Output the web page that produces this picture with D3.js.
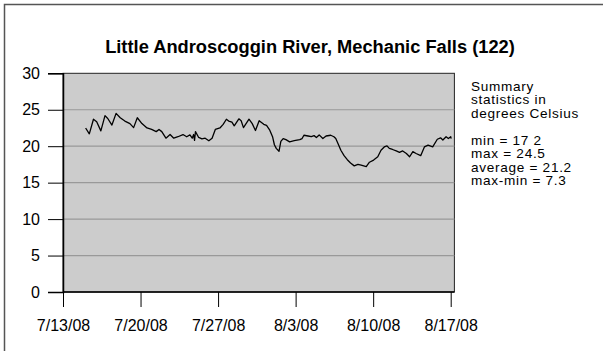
<!DOCTYPE html>
<html>
<head>
<meta charset="utf-8">
<script src="https://cdn.jsdelivr.net/npm/d3@7"></script>
<style>
  html, body { margin: 0; padding: 0; background: #fff; }
  svg { display: block; font-family: "Liberation Sans", Arial, sans-serif; }
</style>
</head>
<body>
<svg id="chart" width="603" height="351"></svg>
<script>
// Water temperature readings, Little Androscoggin River at Mechanic Falls
const times = [
  "2008-07-15T01:00","2008-07-15T09:00","2008-07-15T18:00","2008-07-16T01:00","2008-07-16T10:00",
  "2008-07-16T19:00","2008-07-17T01:00","2008-07-17T10:00","2008-07-17T19:00","2008-07-18T04:00",
  "2008-07-18T14:00","2008-07-19T01:00","2008-07-19T09:00","2008-07-19T17:00","2008-07-20T03:00",
  "2008-07-20T14:00","2008-07-21T00:00","2008-07-21T10:00","2008-07-21T16:00","2008-07-21T22:00",
  "2008-07-22T07:00","2008-07-22T16:00","2008-07-23T00:00","2008-07-23T09:00","2008-07-23T20:00",
  "2008-07-24T04:00","2008-07-24T11:00","2008-07-24T16:00","2008-07-24T19:00","2008-07-24T21:00",
  "2008-07-24T23:00","2008-07-25T06:00","2008-07-25T13:00","2008-07-25T20:00","2008-07-26T04:00",
  "2008-07-26T11:00","2008-07-26T18:00","2008-07-27T04:00","2008-07-27T11:00","2008-07-27T18:00",
  "2008-07-27T23:00","2008-07-28T06:00","2008-07-28T11:00","2008-07-28T21:00","2008-07-29T02:00",
  "2008-07-29T07:00","2008-07-29T19:00","2008-07-30T02:00","2008-07-30T09:00","2008-07-30T17:00",
  "2008-07-31T03:00","2008-07-31T09:00","2008-07-31T16:00","2008-07-31T22:00","2008-08-01T02:00",
  "2008-08-01T06:00","2008-08-01T12:00","2008-08-01T16:00","2008-08-01T21:00","2008-08-02T03:00",
  "2008-08-02T11:00","2008-08-02T21:00","2008-08-03T09:00","2008-08-03T14:00","2008-08-03T18:00",
  "2008-08-04T03:00","2008-08-04T10:00","2008-08-04T16:00","2008-08-04T21:00","2008-08-05T03:00",
  "2008-08-05T11:00","2008-08-05T18:00","2008-08-06T04:00","2008-08-06T11:00","2008-08-06T15:00",
  "2008-08-06T20:00","2008-08-07T02:00","2008-08-07T09:00","2008-08-07T16:00","2008-08-07T23:00",
  "2008-08-08T07:00","2008-08-08T15:00","2008-08-08T22:00","2008-08-09T09:00","2008-08-09T16:00",
  "2008-08-10T01:00","2008-08-10T10:00","2008-08-10T17:00","2008-08-11T00:00","2008-08-11T06:00",
  "2008-08-11T11:00","2008-08-11T18:00","2008-08-12T02:00","2008-08-12T09:00","2008-08-12T16:00",
  "2008-08-13T00:00","2008-08-13T07:00","2008-08-13T14:00","2008-08-13T21:00","2008-08-14T07:00",
  "2008-08-14T15:00","2008-08-14T23:00","2008-08-15T09:00","2008-08-15T19:00","2008-08-16T02:00",
  "2008-08-16T07:00","2008-08-16T14:00","2008-08-16T19:00","2008-08-17T00:00","2008-08-17T01:00"
];
const temps = [
  22.5, 21.7, 23.7, 23.35, 22.1,
  24.2, 23.8, 22.9, 24.5, 23.9,
  23.45, 23.1, 22.55, 23.9, 23.1,
  22.5, 22.3, 22.0, 22.3, 22.0,
  21.1, 21.6, 21.1, 21.3, 21.6,
  21.3, 21.55, 21.1, 21.6, 20.8,
  22.0, 21.2, 21.0, 21.1, 20.75,
  21.1, 22.3, 22.5, 23.0, 23.7,
  23.45, 23.3, 22.8, 23.75, 23.5,
  22.55, 23.7, 23.1, 22.15, 23.5,
  23.0, 22.85, 22.2, 21.3, 20.2,
  19.7, 19.3, 20.65, 21.05, 20.9,
  20.6, 20.75, 20.9, 21.05, 21.5,
  21.4, 21.3, 21.45, 21.2, 21.55,
  21.05, 21.4, 21.5, 21.3, 21.05,
  20.35, 19.45, 18.7, 18.15, 17.7,
  17.3, 17.5, 17.4, 17.2, 17.8,
  18.1, 18.55, 19.45, 19.9, 20.05,
  19.7, 19.55, 19.35, 19.15, 19.35,
  19.0, 18.55, 19.25, 19.0, 18.7,
  19.9, 20.15, 19.9, 20.95, 21.15,
  20.85, 21.3, 21.05, 21.3, 21.05
];
const yTicks = [0, 5, 10, 15, 20, 25, 30];
const xTickDates = ["2008-07-13", "2008-07-20", "2008-07-27", "2008-08-03", "2008-08-10", "2008-08-17"];
const titleText = "Little Androscoggin River, Mechanic Falls (122)";
const summaryLines = [
  "Summary", "statistics in", "degrees Celsius", "",
  "min = 17 2", "max = 24.5", "average = 21.2", "max-min = 7.3"
];

const parse = d3.timeParse("%Y-%m-%dT%H:%M");
const parseDay = d3.timeParse("%Y-%m-%d");
const series = times.map((t, i) => ({ date: parse(t), value: temps[i] }));
const tickDates = xTickDates.map(parseDay);

const svg = d3.select("#chart");
const font = "'Liberation Sans', Arial, sans-serif";

// outer frame
svg.append("rect")
  .attr("x", 4.5).attr("y", 4.5)
  .attr("width", 640).attr("height", 400)
  .attr("fill", "#fff").attr("stroke", "#555").attr("stroke-width", 1.5);

const x = d3.scaleTime()
  .domain([tickDates[0], tickDates[tickDates.length - 1]])
  .range([63, 450.7]);
const y = d3.scaleLinear().domain([0, 30]).range([292, 73.3]);

const plotRight = x(parse("2008-08-17T08:00"));

// plot background
svg.append("rect")
  .attr("x", x.range()[0]).attr("y", y(30))
  .attr("width", plotRight - x.range()[0])
  .attr("height", y(0) - y(30))
  .attr("fill", "#cccccc").attr("stroke", "#222").attr("stroke-width", 1);

// horizontal gridlines
svg.append("g").selectAll("line")
  .data(yTicks.filter(v => v > 0 && v < 30))
  .join("line")
  .attr("x1", x.range()[0]).attr("x2", plotRight)
  .attr("y1", d => y(d)).attr("y2", d => y(d))
  .attr("stroke", "#999").attr("stroke-width", 1.2);

// temperature line
svg.append("path")
  .datum(series)
  .attr("fill", "none")
  .attr("stroke", "#000")
  .attr("stroke-width", 1.3)
  .attr("stroke-linejoin", "round")
  .attr("d", d3.line().x(d => x(d.date)).y(d => y(d.value)));

// y axis
const yAxis = svg.append("g")
  .attr("transform", `translate(${x.range()[0]},0)`)
  .call(d3.axisLeft(y).tickValues(yTicks).tickSize(15).tickPadding(8).tickFormat(d3.format("d")));
yAxis.select(".domain").attr("stroke", "#000").attr("stroke-width", 1.5);
yAxis.selectAll(".tick line").attr("stroke", "#000").attr("stroke-width", 1);
yAxis.selectAll(".tick text")
  .attr("font-family", font).attr("font-size", 16).attr("fill", "#000");

// x axis
const xAxis = svg.append("g")
  .attr("transform", `translate(0,${y(0)})`)
  .call(d3.axisBottom(x).tickValues(tickDates).tickSize(15).tickPadding(13)
    .tickFormat(d3.timeFormat("%-m/%-d/%y")));
xAxis.select(".domain").remove();
svg.append("line")
  .attr("x1", x.range()[0]).attr("x2", plotRight)
  .attr("y1", y(0)).attr("y2", y(0))
  .attr("stroke", "#000").attr("stroke-width", 1.5);
xAxis.selectAll(".tick line").attr("stroke", "#000").attr("stroke-width", 1);
xAxis.selectAll(".tick text")
  .attr("font-family", font).attr("font-size", 16).attr("fill", "#000");

// title
svg.append("text")
  .attr("x", 310).attr("y", 53)
  .attr("text-anchor", "middle")
  .attr("font-family", font).attr("font-weight", "bold").attr("font-size", 18.3)
  .text(titleText);

// summary statistics block
svg.append("g").selectAll("text")
  .data(summaryLines)
  .join("text")
  .attr("x", 471)
  .attr("y", (d, i) => 90.7 + i * 13.5)
  .attr("font-family", font).attr("font-size", 13.6).attr("letter-spacing", 0.7)
  .attr("fill", "#000")
  .text(d => d);
</script>
</body>
</html>
